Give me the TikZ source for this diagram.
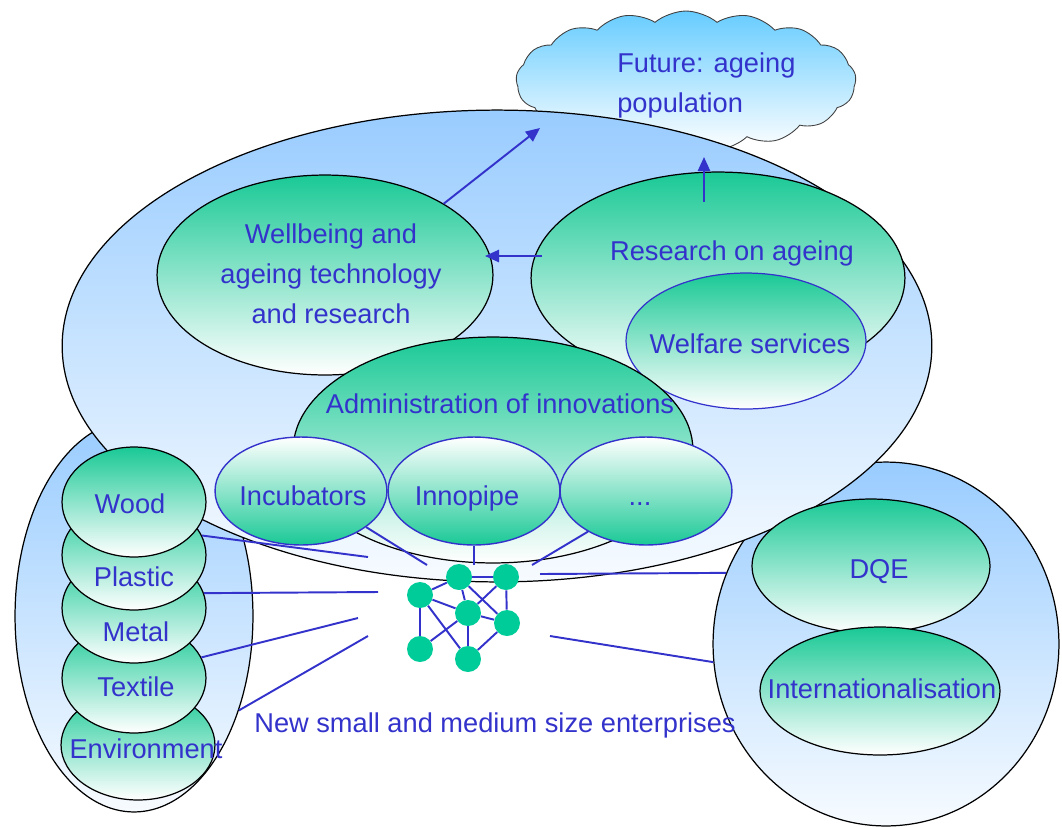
\documentclass[tikz,border=0pt]{standalone}
\usepackage{fontspec}
\setmainfont{Liberation Sans}
\usetikzlibrary{arrows.meta, shapes.geometric, shapes.symbols}

\definecolor{skyblue}{RGB}{153,204,255}
\definecolor{paleblue}{RGB}{247,251,255}
\definecolor{cloudblue}{RGB}{102,204,255}
\definecolor{seagreen}{RGB}{26,201,150}
\definecolor{netgreen}{RGB}{0,204,153}
\definecolor{inkblue}{RGB}{51,51,204}

\tikzset{
  zone/.style={ellipse, draw=black, line width=0.7pt, top color=skyblue, bottom color=paleblue, inner sep=0pt},
  topic/.style={ellipse, draw=black, line width=0.7pt, top color=seagreen, bottom color=white, inner sep=0pt},
  subtopic/.style={ellipse, draw=inkblue, line width=0.8pt, top color=white, bottom color=seagreen, inner sep=0pt},
  esize/.style 2 args={minimum width={#1*0.04cm}, minimum height={#2*0.04cm}},
  lbl/.style={text=inkblue, font=\fontsize{15.5pt}{22.7pt}\selectfont, inner sep=0pt, anchor=base},
  link/.style={inkblue, line width=1.1pt},
  arr/.style={inkblue, line width=1.1pt, -{Triangle[length=8pt,width=7pt]}},
  firm/.style={circle, fill=netgreen, minimum size=0.52cm, inner sep=0pt}
}

\begin{document}
\begin{tikzpicture}[x=0.02cm, y=-0.02cm]
\useasboundingbox (0,0) rectangle (1062,826);

% background zones
\node[cloud, cloud puffs=17, cloud puff arc=80, cloud ignores aspect, minimum width=6.8cm, minimum height=2.8cm, draw=black!75, line width=0.5pt, top color=cloudblue, bottom color=white] (future) at (686,81) {};
\node[zone, esize={173}{182}] (quality) at (886,644) {};
\node[zone, esize={119}{196}] (industries) at (134,616) {};
\node[zone, esize={435}{236}] (region) at (497,346) {};

% ageing topics
\node[topic, esize={187}{106}] (research) at (718,278) {};
\node[topic, draw=inkblue, esize={120}{68}] (welfare) at (746,341) {};
\node[topic, esize={168}{100}] (wellbeing) at (325,275) {};
\node[topic, esize={200}{113}] (admin) at (493,450) {};
\node[subtopic, esize={86}{54}] (incubators) at (301,491) {};
\node[subtopic, esize={86}{54}] (innopipe) at (474,491) {};
\node[subtopic, esize={86}{54}] (more) at (646,491) {};

% industries
\node[topic, esize={77}{55}] (environment) at (138,745) {};
\node[topic, esize={72}{55}] (textile) at (134,678) {};
\node[topic, esize={72}{55}] (metal) at (134,608) {};
\node[topic, esize={72}{55}] (plastic) at (134,555) {};
\node[topic, esize={72}{55}] (wood) at (134,502) {};

% quality
\node[topic, esize={119}{67}] (dqe) at (871,566) {};
\node[topic, esize={120}{64}] (intl) at (880,691) {};

% arrows
\coordinate (goal) at (540,128);
\coordinate (rise) at (704,202);
\coordinate (risetip) at (704,157);
\coordinate (feed) at (542,256);
\coordinate (feedtip) at (485,256);
\draw[arr] (wellbeing.31) -- (goal);
\draw[arr] (rise) -- (risetip);
\draw[arr] (feed) -- (feedtip);

% links to the enterprises
\coordinate (hub1) at (368,557);
\coordinate (hub2) at (378,592);
\coordinate (hub3) at (358,618);
\coordinate (hub4) at (368,636);
\coordinate (hub5) at (427,565);
\coordinate (hub6) at (474,565);
\coordinate (hub7) at (532,565);
\coordinate (hub8) at (540,574);
\coordinate (hub9) at (550,636);
\draw[link] (plastic.16) -- (hub1);
\draw[link] (metal.12) -- (hub2);
\draw[link] (textile.17) -- (hub3);
\draw[link] (industries.-42) -- (hub4);
\draw[link] (incubators.-29) -- (hub5);
\draw[link] (innopipe.south) -- (hub6);
\draw[link] (more.-145) -- (hub7);
\draw[link] (hub8) -- (quality.156);
\draw[link] (hub9) -- (quality.186);

% enterprises
\node[firm] (sme1) at (459,577) {};
\node[firm] (sme2) at (506,577) {};
\node[firm] (sme3) at (420,595) {};
\node[firm] (sme4) at (468,613) {};
\node[firm] (sme5) at (507,623) {};
\node[firm] (sme6) at (420,649) {};
\node[firm] (sme7) at (468,659) {};
\draw[link] (sme3) -- (sme1);
\draw[link] (sme1) -- (sme2);
\draw[link] (sme1) -- (sme4);
\draw[link] (sme1) -- (sme5);
\draw[link] (sme2) -- (sme4);
\draw[link] (sme2) -- (sme5);
\draw[link] (sme4) -- (sme5);
\draw[link] (sme3) -- (sme4);
\draw[link] (sme3) -- (sme6);
\draw[link] (sme3) -- (sme7);
\draw[link] (sme6) -- (sme4);
\draw[link] (sme4) -- (sme7);
\draw[link] (sme5) -- (sme7);

% texts
\node[lbl, anchor=base west, align=left] (futuretxt) at (617,112) {Future: ageing\\population};
\node[lbl, align=center] (wellbeingtxt) at (331,323) {Wellbeing and\\ageing technology\\and research};
\node[lbl] (researchtxt) at (732,260) {Research on ageing};
\node[lbl] (welfaretxt) at (750,353) {Welfare services};
\node[lbl] (admintxt) at (500,413) {Administration of innovations};
\node[lbl] (incubatorstxt) at (303,505) {Incubators};
\node[lbl] (innopipetxt) at (467,505) {Innopipe};
\node[lbl] (moretxt) at (640,505) {...};
\node[lbl] (woodtxt) at (130,513) {Wood};
\node[lbl] (plastictxt) at (134,586) {Plastic};
\node[lbl] (metaltxt) at (136,641) {Metal};
\node[lbl] (textiletxt) at (136,696) {Textile};
\node[lbl] (environmenttxt) at (146,758) {Environment};
\node[lbl] (dqetxt) at (879,578) {DQE};
\node[lbl] (intltxt) at (882,698) {Internationalisation};
\node[lbl] (smetxt) at (495,732) {New small and medium size enterprises};
\end{tikzpicture}
\end{document}
